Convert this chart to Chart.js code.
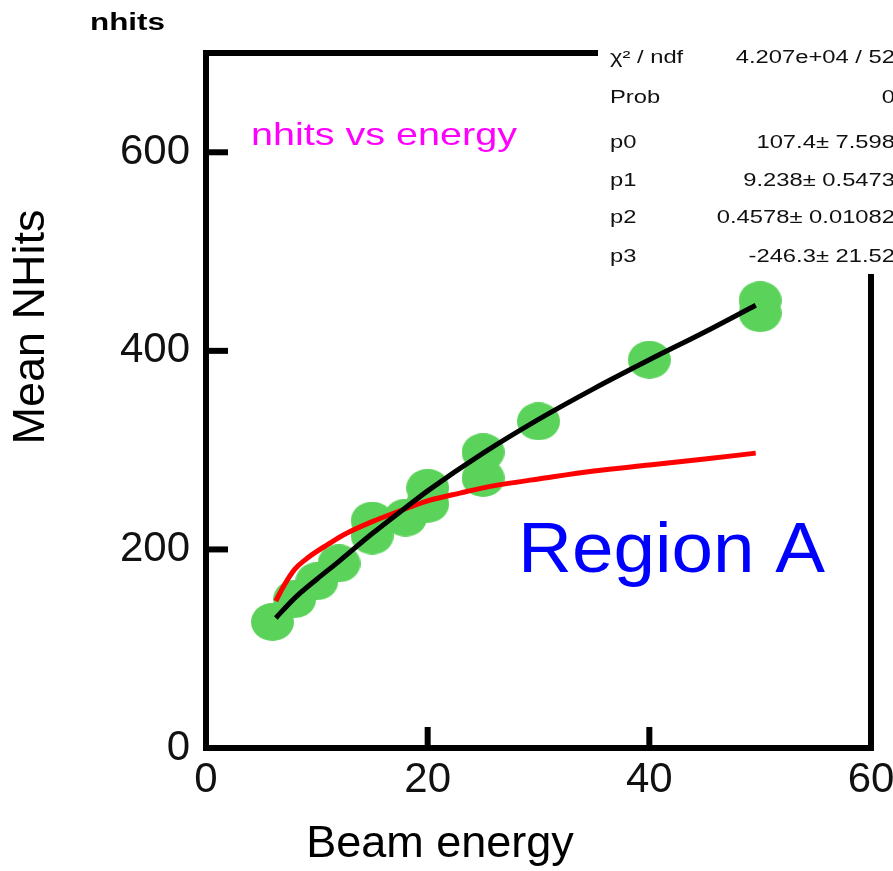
<!DOCTYPE html>
<html>
<head>
<meta charset="utf-8">
<script src="https://cdn.jsdelivr.net/npm/chart.js@4"></script>
<style>
body { margin: 0; background: #fff; }
</style>
</head>
<body>
<canvas id="nhitsChart" width="893" height="871"></canvas>
<script>
// measured points (beam energy vs mean nhits)
var energies = [6, 8, 10, 12, 15, 15, 18, 20, 20, 25, 25, 30, 40, 50, 50];
var meanHits = [127, 150, 168, 186, 214, 229, 232, 246, 262, 272, 298, 329, 391, 438, 451];

// black fit curve
var fitX = [6.3, 8, 10, 12, 15, 18, 20, 25, 30, 35, 40, 45, 49.6];
var fitY = [131, 151, 170, 188, 216, 242, 259, 297, 331, 362, 391, 419, 446];

// red curve
var redX = [6.3, 7, 8, 9, 10, 11, 12, 13, 15, 18, 20, 23, 25, 27, 30, 35, 40, 45, 49.6];
var redY = [148, 163, 180, 190, 198, 205, 212, 218, 228, 241, 249, 257, 262, 266, 271, 279, 285, 291, 297];

var xTicks = [0, 20, 40, 60];
var yTicks = [0, 200, 400, 600];

var statNames = ['χ² / ndf', 'Prob', 'p0', 'p1', 'p2', 'p3'];
var statValues = ['4.207e+04 / 52', '0', '107.4± 7.598', '9.238± 0.5473', '0.4578± 0.01082', '-246.3± 21.52'];

function toPoints(xs, ys) {
    var pts = [];
    for (var i = 0; i < xs.length; i++) {
        pts.push({x: xs[i], y: ys[i]});
    }
    return pts;
}

function makeDot() {
    var c = document.createElement('canvas');
    c.width = 43;
    c.height = 38;
    var g = c.getContext('2d');
    g.fillStyle = '#5bd35b';
    g.beginPath();
    g.ellipse(21.5, 19, 21.5, 19, 0, 0, Math.PI * 2);
    g.fill();
    return c;
}

// draw text squeezed/stretched to a given width
function stretchText(ctx, text, x, y, width) {
    var w = ctx.measureText(text).width;
    ctx.save();
    ctx.translate(x, y);
    ctx.scale(width / w, 1);
    ctx.fillText(text, 0, 0);
    ctx.restore();
}

var framePlugin = {
    id: 'frame',
    afterDraw: function(chart) {
        var ctx = chart.ctx;
        var a = chart.chartArea;
        var xs = chart.scales.x;
        var ys = chart.scales.y;
        ctx.save();
        ctx.strokeStyle = '#000';
        ctx.lineWidth = 6;
        ctx.lineCap = 'square';
        ctx.strokeRect(a.left, a.top, a.right - a.left, a.bottom - a.top);

        ctx.lineCap = 'butt';
        yTicks.forEach(function(v) {
            if (v === 0) return;
            var py = ys.getPixelForValue(v);
            ctx.beginPath();
            ctx.moveTo(a.left, py);
            ctx.lineTo(a.left + 22, py);
            ctx.stroke();
        });
        xTicks.forEach(function(v) {
            if (v === 0 || v === 60) return;
            var px = xs.getPixelForValue(v);
            ctx.beginPath();
            ctx.moveTo(px, a.bottom);
            ctx.lineTo(px, a.bottom - 21);
            ctx.stroke();
        });

        // stats box
        ctx.fillStyle = '#fff';
        ctx.fillRect(598, 30, 295, 244);
        ctx.fillStyle = '#111';
        ctx.font = '18px "Liberation Sans", Arial, sans-serif';
        ctx.textBaseline = 'middle';
        var rows = [58, 98, 143, 181, 218, 257];
        for (var i = 0; i < statNames.length; i++) {
            ctx.save();
            ctx.translate(610, rows[i]);
            ctx.scale(1.32, 1);
            ctx.textAlign = 'left';
            ctx.fillText(statNames[i], 0, 0);
            ctx.restore();
            ctx.save();
            ctx.translate(895, rows[i]);
            ctx.scale(1.32, 1);
            ctx.textAlign = 'right';
            ctx.fillText(statValues[i], 0, 0);
            ctx.restore();
        }

        ctx.textAlign = 'left';
        ctx.textBaseline = 'alphabetic';

        ctx.fillStyle = '#000';
        ctx.font = 'bold 23px "Liberation Sans", Arial, sans-serif';
        stretchText(ctx, 'nhits', 90, 30, 75);

        ctx.fillStyle = '#ff00ff';
        ctx.font = '32px "Liberation Sans", Arial, sans-serif';
        stretchText(ctx, 'nhits vs energy', 251, 145, 266);

        ctx.fillStyle = '#0000ff';
        ctx.font = '70px "Liberation Sans", Arial, sans-serif';
        stretchText(ctx, 'Region A', 518, 572, 307);

        ctx.fillStyle = '#000';
        ctx.font = '45px "Liberation Sans", Arial, sans-serif';
        ctx.textAlign = 'center';
        ctx.textBaseline = 'middle';
        ctx.fillText('Beam energy', 440, 845);
        ctx.save();
        ctx.translate(32, 327);
        ctx.rotate(-Math.PI / 2);
        ctx.fillText('Mean NHits', 0, 0);
        ctx.restore();

        ctx.restore();
    }
};

var ctx = document.getElementById('nhitsChart');

var nhitsChart = new Chart(ctx, {
    type: 'scatter',
    data: {
        datasets: [{
            label: 'fit',
            data: toPoints(fitX, fitY),
            showLine: true,
            borderColor: '#000',
            borderWidth: 5,
            pointRadius: 0,
            cubicInterpolationMode: 'monotone'
        }, {
            label: 'curve',
            data: toPoints(redX, redY),
            showLine: true,
            borderColor: '#ff0000',
            borderWidth: 5,
            pointRadius: 0,
            cubicInterpolationMode: 'monotone'
        }, {
            label: 'nhits',
            data: toPoints(energies, meanHits),
            pointStyle: makeDot(),
            pointRadius: 20,
            backgroundColor: '#5bd35b',
            borderWidth: 0
        }]
    },
    options: {
        responsive: false,
        animation: false,
        layout: {
            padding: {top: 53, right: 22, left: 0, bottom: 0}
        },
        plugins: {
            legend: { display: false },
            tooltip: { enabled: false }
        },
        scales: {
            x: {
                type: 'linear',
                min: 0,
                max: 60,
                afterFit: function(s) {
                    s.height = 123;
                    s.paddingLeft = 0;
                    s.paddingRight = 0;
                },
                afterBuildTicks: function(s) {
                    s.ticks = xTicks.map(function(v) { return {value: v}; });
                },
                grid: { display: false, drawTicks: false },
                border: { display: false },
                ticks: {
                    font: { size: 42, family: '"Liberation Sans", Arial, sans-serif' },
                    color: '#111',
                    padding: 7,
                    maxRotation: 0,
                    autoSkip: false
                }
            },
            y: {
                type: 'linear',
                min: 0,
                max: 700,
                afterFit: function(s) {
                    s.width = 206;
                    s.paddingTop = 0;
                    s.paddingBottom = 0;
                },
                afterBuildTicks: function(s) {
                    s.ticks = yTicks.map(function(v) { return {value: v}; });
                },
                grid: { display: false, drawTicks: false },
                border: { display: false },
                ticks: {
                    font: { size: 42, family: '"Liberation Sans", Arial, sans-serif' },
                    color: '#111',
                    padding: 16,
                    autoSkip: false
                }
            }
        }
    },
    plugins: [framePlugin]
});
</script>
</body>
</html>
